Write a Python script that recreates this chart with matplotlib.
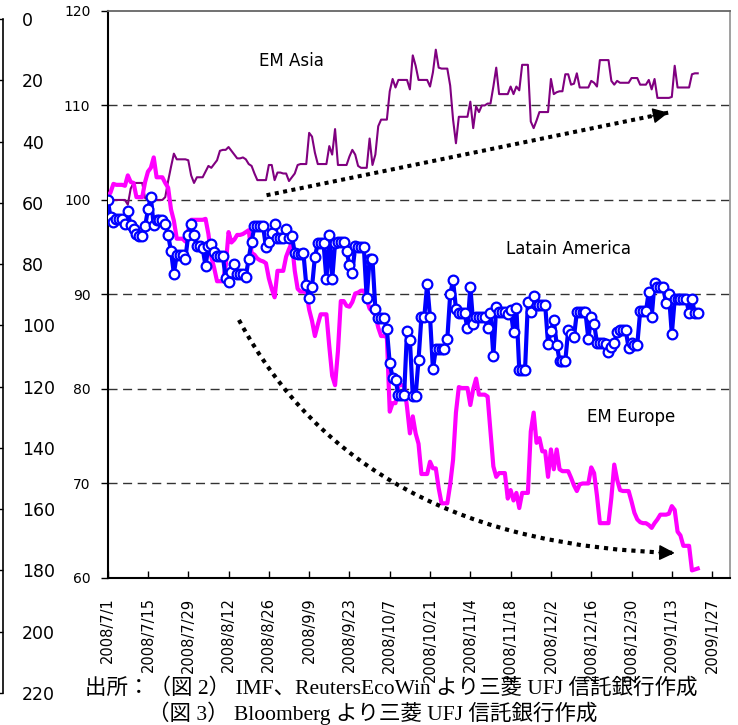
import pandas as pd
import matplotlib
matplotlib.use('Agg')
import matplotlib.pyplot as plt
import matplotlib.dates as mdates
from matplotlib.path import Path
from matplotlib.patches import PathPatch

START_DATE = '2008-07-01'

# Daily index levels (2008/7/1 = 100), one row per week starting on Tuesday
em_asia = [
    100.3, 100.1, 100.0, 100.0, 100.0, 100.0, 100.0,
    99.5, 101.2, 101.8, 101.8, 101.8, 101.8, 100.2,
    100.0, 100.0, 100.0, 100.0, 100.0, 100.0, 100.3,
    102.0, 103.5, 104.9, 104.3, 104.3, 104.3, 104.3,
    104.2, 102.6, 101.8, 102.4, 102.4, 102.4, 103.0,
    103.6, 103.4, 103.8, 104.2, 105.2, 105.3, 105.3,
    105.6, 105.2, 104.8, 104.4, 104.4, 104.5, 104.3,
    103.8, 103.6, 102.8, 102.1, 102.1, 102.1, 102.1,
    103.7, 103.7, 102.1, 102.9, 102.9, 102.8, 102.8,
    102.0, 102.4, 102.8, 103.7, 103.8, 103.8, 103.8,
    107.1, 106.7, 105.0, 103.8, 103.8, 103.8, 103.8,
    105.7, 104.8, 107.5, 103.7, 103.7, 103.7, 103.7,
    104.6, 105.3, 104.8, 103.6, 103.4, 103.4, 103.4,
    106.5, 103.7, 104.8, 107.8, 108.5, 108.5, 108.5,
    111.5, 112.8, 111.9, 112.7, 112.7, 112.7, 112.7,
    111.7, 115.3, 114.2, 112.7, 112.7, 112.7, 112.7,
    112.0, 113.5, 115.9, 114.0, 113.9, 113.9, 113.9,
    112.1, 108.5, 106.0, 108.8, 108.8, 108.8, 108.8,
    110.4, 107.6, 109.9, 109.3, 110.0, 110.0, 110.2,
    110.2, 112.0, 114.0, 111.2, 111.2, 111.2, 111.2,
    112.0, 111.2, 112.0, 111.6, 114.3, 114.3, 114.3,
    108.3, 107.6, 108.4, 109.3, 109.3, 109.3, 109.3,
    112.8, 111.2, 111.4, 111.5, 111.5, 113.3, 113.3,
    112.2, 112.3, 113.4, 111.9, 111.9, 111.9, 111.9,
    112.6, 112.4, 112.0, 114.8, 114.8, 114.8, 114.8,
    112.6, 112.2, 112.6, 112.4, 112.4, 112.4, 112.4,
    112.9, 112.9, 112.9, 112.2, 112.2, 112.2, 112.7,
    111.7, 112.8, 110.8, 110.8, 110.8, 110.8, 110.8,
    110.9, 114.2, 111.9, 111.9, 111.9, 111.9, 111.9,
    113.3, 113.4, 113.4,
]

latin_america = [
    100.0, 98.2, 97.7, 98.0, 98.0, 98.0, 97.5,
    98.8, 97.3, 96.9, 96.4, 96.2, 96.2, 97.2,
    99.0, 100.3, 97.3, 97.9, 97.9, 97.9, 97.5,
    96.3, 94.6, 92.2, 94.2, 94.2, 94.2, 93.8,
    96.3, 97.5, 96.3, 95.1, 95.1, 94.9, 93.0,
    95.1, 95.3, 94.5, 94.1, 94.1, 94.1, 91.7,
    91.3, 92.4, 93.2, 92.2, 92.2, 92.2, 91.9,
    93.8, 95.6, 97.2, 97.2, 97.2, 97.2, 95.0,
    95.5, 96.5, 97.5, 96.0, 96.0, 96.0, 96.9,
    96.0, 96.2, 94.4, 94.3, 94.3, 94.4, 91.0,
    89.6, 90.8, 94.0, 95.4, 95.4, 95.4, 91.6,
    96.3, 91.6, 95.4, 95.5, 95.5, 95.5, 94.6,
    93.1, 92.3, 95.1, 95.0, 95.0, 95.0, 89.6,
    93.7, 93.7, 88.5, 87.5, 87.5, 87.5, 86.3,
    82.7, 81.2, 81.0, 79.4, 79.4, 79.4, 86.1,
    85.2, 79.3, 79.3, 83.1, 87.6, 87.6, 91.1,
    87.6, 82.1, 84.2, 84.2, 84.2, 84.2, 85.3,
    90.0, 91.5, 88.5, 88.0, 88.0, 88.0, 86.4,
    90.8, 86.9, 87.6, 87.6, 87.6, 87.6, 86.5,
    88.0, 83.5, 88.7, 88.1, 88.1, 88.1, 87.9,
    88.4, 86.0, 88.6, 82.0, 82.0, 82.0, 89.2,
    88.1, 89.8, 88.9, 88.9, 88.9, 88.9, 84.8,
    86.1, 87.3, 84.7, 83.0, 83.0, 83.0, 86.2,
    85.8, 85.5, 88.1, 88.1, 88.1, 88.1, 85.3,
    87.6, 86.9, 84.9, 84.9, 84.9, 84.8, 83.9,
    84.4, 84.9, 86.0, 86.2, 86.2, 86.2, 84.3,
    84.9, 84.7, 84.7, 88.2, 88.2, 88.2, 90.3,
    87.6, 91.2, 90.8, 90.8, 90.8, 89.1, 90.0,
    85.8, 89.5, 89.5, 89.5, 89.5, 89.5, 88.0,
    89.5, 88.0, 88.0,
]

em_europe = [
    100.3, 100.8, 101.7, 101.6, 101.6, 101.6, 101.5,
    102.6, 101.9, 101.8, 100.3, 100.3, 100.3, 101.9,
    103.0, 103.4, 104.5, 102.4, 102.4, 102.4, 101.8,
    101.3, 99.0, 97.8, 95.9, 95.9, 95.9, 95.6,
    96.8, 97.9, 97.9, 97.9, 97.9, 97.9, 98.0,
    96.4, 94.0, 92.8, 91.4, 91.4, 91.4, 93.0,
    96.6, 95.5, 95.8, 96.3, 96.3, 96.4, 96.6,
    96.8, 94.4, 94.2, 93.8, 93.6, 93.5, 93.3,
    91.7, 90.6, 89.7, 92.5, 92.5, 92.5, 94.0,
    94.8, 95.5, 92.5, 90.6, 90.3, 90.3, 90.3,
    88.4, 87.2, 85.6, 86.8, 87.9, 87.9, 87.9,
    84.5, 81.4, 80.4, 84.0, 89.3, 89.3, 88.8,
    88.7, 89.2, 90.1, 90.2, 90.4, 90.4, 89.5,
    88.5, 88.2, 87.8, 86.5, 85.6, 85.6, 85.5,
    77.6, 78.5, 78.5, 80.4, 80.4, 80.4, 78.1,
    75.3, 77.1, 75.3, 74.2, 71.0, 71.0, 71.0,
    72.3, 71.6, 71.6, 69.5, 67.9, 67.9, 67.9,
    69.9, 72.5, 77.5, 80.2, 80.1, 80.1, 80.1,
    78.3, 80.0, 81.1, 79.4, 79.4, 79.4, 79.2,
    75.5, 71.8, 70.7, 71.1, 71.1, 71.1, 68.4,
    69.3, 68.2, 69.0, 67.4, 69.0, 69.0, 69.0,
    75.5, 77.5, 74.3, 74.8, 73.4, 73.4, 70.7,
    73.6, 71.5, 73.6, 71.5, 71.3, 71.3, 71.3,
    70.6, 69.8, 69.2, 69.9, 70.0, 70.0, 70.0,
    71.7, 71.1, 68.7, 65.8, 65.8, 65.8, 65.8,
    68.5, 72.0, 70.4, 69.3, 69.2, 69.2, 69.2,
    68.1, 66.9, 66.2, 65.9, 65.8, 65.8, 65.6,
    65.3, 65.8, 66.2, 66.7, 66.7, 66.7, 66.8,
    67.6, 67.2, 64.9, 64.5, 63.4, 63.4, 63.4,
    60.8, 60.9, 61.0,
]

y_ticks = [60, 70, 80, 90, 100, 110, 120]
left_scale_ticks = [0, 20, 40, 60, 80, 100, 120, 140, 160, 180, 200, 220]
tick_dates = pd.date_range('2008-07-01', '2009-01-27', freq='14D')
tick_labels = [f'{d.year}/{d.month}/{d.day}' for d in tick_dates]

series_names = ['EM Asia', 'Latain America', 'EM Europe']

footnote_1 = '出所：（図 2） IMF、ReutersEcoWin より三菱 UFJ 信託銀行作成'
footnote_2 = '（図 3） Bloomberg より三菱 UFJ 信託銀行作成'


def draw_left_scale(fig):
    """Inverted 0-220 scale at the left edge of the page."""
    ax0 = fig.add_axes([-0.02, 0.0441, 0.0241, 0.9297])
    ax0.set_ylim(220, 0)
    ax0.set_yticks(left_scale_ticks)
    ax0.yaxis.tick_right()
    ax0.set_xticks([])
    for side in ['left', 'top', 'bottom']:
        ax0.spines[side].set_visible(False)
    ax0.spines['right'].set_linewidth(1.2)
    ax0.tick_params(axis='y', direction='in', length=4, width=1,
                    pad=13.5, labelsize=12.5)
    ax0.patch.set_visible(False)


def dotted_curve(ax, p0, p1, p2, lw, pattern):
    path = Path([p0, p1, p2], [Path.MOVETO, Path.CURVE3, Path.CURVE3])
    patch = PathPatch(path, fill=False, edgecolor='black', lw=lw,
                      linestyle=(0, pattern), capstyle='butt', zorder=6)
    ax.add_patch(patch)


def arrow_head(ax, tip, back):
    ax.annotate('', xy=tip, xytext=back,
                arrowprops=dict(arrowstyle='-|>', mutation_scale=24,
                                color='black', lw=1, shrinkA=0, shrinkB=0),
                zorder=7)


def create_chart(output_file):
    fig = plt.figure(figsize=(7.38, 7.25), dpi=100)
    draw_left_scale(fig)

    ax = fig.add_axes([0.1459, 0.2028, 0.8432, 0.7821])
    dates = pd.date_range(START_DATE, periods=len(em_asia), freq='D')

    ax.plot(dates, em_asia, color='#800080', lw=1.5, zorder=3)
    ax.plot(dates, em_europe, color='#FF00FF', lw=3, zorder=4)
    ax.plot(dates, latin_america, color='#0000FF', lw=3, marker='o',
            ms=7, mfc='white', mec='#0000FF', mew=1.6, zorder=5)

    x0 = mdates.date2num(dates[0])
    ax.set_xlim(x0, x0 + 216.2)
    ax.set_ylim(60, 120)
    ax.set_yticks(y_ticks)
    ax.set_xticks(tick_dates)
    ax.set_xticklabels(tick_labels, rotation=90)

    ax.tick_params(axis='x', direction='in', length=5, width=1,
                   pad=14, labelsize=10.5)
    ax.tick_params(axis='y', direction='out', length=5, width=1,
                   pad=7.5, labelsize=10)

    ax.grid(axis='y', color='#333333', lw=1, linestyle=(0, (6.5, 4)))
    gridlines = ax.get_ygridlines()
    gridlines[0].set_visible(False)
    gridlines[-1].set_visible(False)

    for side in ['left', 'bottom']:
        ax.spines[side].set_linewidth(1.5)
        ax.spines[side].set_color('black')
    ax.spines['top'].set_color('#666666')
    ax.spines['top'].set_linewidth(1.3)
    ax.spines['right'].set_color('#999999')
    ax.spines['right'].set_linewidth(1.3)

    # series names
    ax.text(0.296, 0.912, series_names[0], transform=ax.transAxes,
            ha='center', va='center', fontsize=12)
    ax.text(0.7405, 0.580, series_names[1], transform=ax.transAxes,
            ha='center', va='center', fontsize=12)
    ax.text(0.8417, 0.284, series_names[2], transform=ax.transAxes,
            ha='center', va='center', fontsize=12)

    # trend arrows (x in days from the first date)
    up_start = (x0 + 55.2, 100.5)
    up_tip = (x0 + 194.8, 109.24)
    ax.plot([up_start[0], up_tip[0]], [up_start[1], up_tip[1]], color='black',
            lw=2.9, linestyle=(0, (1, 1.1)), dash_capstyle='butt', zorder=6)
    arrow_head(ax, up_tip, (up_tip[0] - 0.05 * (up_tip[0] - up_start[0]),
                            up_tip[1] - 0.05 * (up_tip[1] - up_start[1])))

    c0 = (x0 + 45.6, 87.3)
    c1 = (x0 + 87.6, 63.5)
    c2 = (x0 + 197.0, 62.65)
    dotted_curve(ax, c0, c1, c2, lw=3.0, pattern=(1, 1.2))
    arrow_head(ax, c2, (c2[0] - 0.05 * (c2[0] - c1[0]),
                        c2[1] - 0.05 * (c2[1] - c1[1])))

    note_font = ['Liberation Serif', 'Noto Sans CJK JP']
    fig.text(0.1152, 0.051, footnote_1, family=note_font, fontsize=15.5,
             ha='left', va='center')
    fig.text(0.2005, 0.0166, footnote_2, family=note_font, fontsize=15.5,
             ha='left', va='center')

    fig.savefig(output_file, dpi=100)
    plt.close(fig)


def main():
    create_chart('out.png')


if __name__ == '__main__':
    main()
